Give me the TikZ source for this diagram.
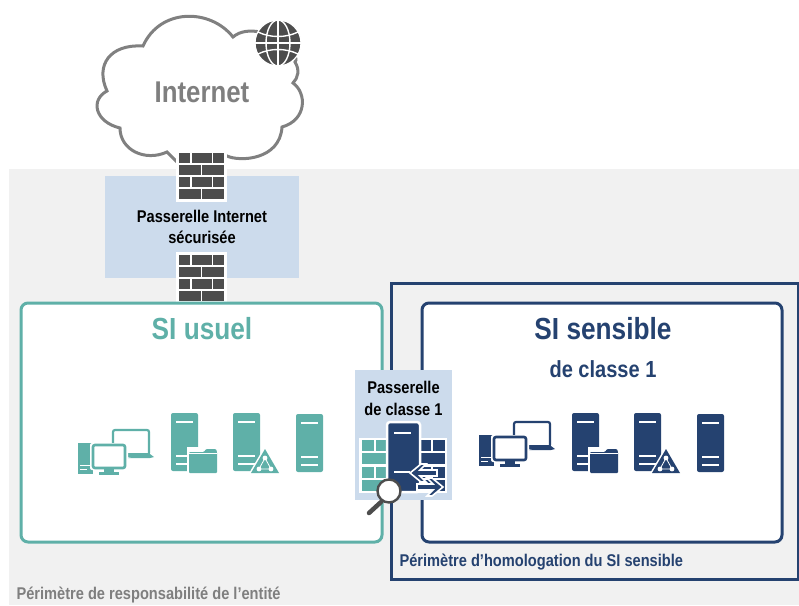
\documentclass[tikz,border=0pt]{standalone}
\usepackage{fontspec}
\usepackage{xcolor}
\setmainfont[FakeStretch=0.86]{Liberation Sans}
\definecolor{tealsi}{HTML}{5FB0A8}
\definecolor{navysi}{HTML}{254270}
\definecolor{greyzone}{HTML}{F1F1F1}
\definecolor{bluegate}{HTML}{CCDBEC}
\definecolor{darkbrick}{HTML}{4D4D4D}
\definecolor{greycloud}{HTML}{808080}
\definecolor{greylabel}{HTML}{7F7F7F}
\newcommand{\sizedfont}[1]{\bfseries\fontsize{#1}{#1}\selectfont}
\tikzset{
  gatelabel/.style={font=\sizedfont{17},text=black,align=center},
  zonelabel/.style={font=\sizedfont{17},anchor=west},
  pics/wallbricks/.style={code={
    \fill [white] (-3,-3) rectangle (48,49);
    \foreach \y in {0,24} {
      \fill [darkbrick] (0,\y) rectangle (11,\y+10);
      \fill [darkbrick] (13,\y) rectangle (33,\y+10);
      \fill [darkbrick] (34,\y) rectangle (45,\y+10);
      \fill [darkbrick] (0,\y+12) rectangle (22,\y+22);
      \fill [darkbrick] (23,\y+12) rectangle (45,\y+22);
    }
  }},
  pics/serverbox/.style={code={
    \fill [#1,rounded corners=2pt] (0,0) rectangle (27,58);
    \draw [white,line width=2pt] (5,9) -- (22,9);
    \draw [white,line width=2pt] (5,43) -- (22,43);
    \draw [white,line width=2pt] (5,51) -- (22,51);
  }},
  pics/folderbox/.style={code={
    \fill [white] (-2,-2) rectangle (30,26);
    \fill [#1,rounded corners=1pt] (0,3) -- (15,3) -- (17,0) -- (27,0) -- (28,3) -- (28,24) -- (0,24) -- cycle;
    \draw [white,line width=0.6pt] (0,4) -- (28,4);
  }},
  pics/triangbox/.style={code={
    \fill [white] (0,-3) -- (17,26) -- (-17,26) -- cycle;
    \fill [#1] (0,0) -- (14,24) -- (-14,24) -- cycle;
    \draw [white,line width=0.8pt] (0,9) -- (6,20) -- (-6,20) -- cycle;
    \fill [white] (0,9) circle (2.4);
    \fill [white] (6,20) circle (2.4);
    \fill [white] (-6,20) circle (2.4);
  }},
  pics/pcbox/.style={code={
    \draw [#1,line width=2.2pt,rounded corners=2pt] (35,24) -- (35,1) -- (71,1) -- (71,24);
    \fill [#1] (48,24) rectangle (72,28);
    \fill [#1] (72,25) -- (76,28) -- (72,29) -- (48,29) -- cycle;
    \fill [#1] (0,14) rectangle (15,45);
    \draw [white,line width=1pt] (2,36) -- (12,36);
    \draw [white,line width=1pt] (2,40) -- (9,40);
    \fill [white,rounded corners=2pt] (12,14) rectangle (50,41);
    \draw [#1,line width=2.6pt,rounded corners=2pt] (15,16) rectangle (47,39);
    \fill [#1] (26,39) rectangle (36,43);
    \fill [#1] (21,43) rectangle (41,45.5);
  }}
}
\begin{document}
\begin{tikzpicture}[x=1pt,y=-1pt]
\useasboundingbox (0,0) rectangle (799,605);
\fill [greyzone] (9,169) rectangle (799,605);
\fill [bluegate] (105,176) rectangle (299,278);

\draw [greycloud,line width=3pt,fill=white] (143,46) .. controls (160,8) and (210,8) .. (233,37)
  .. controls (240,31) and (250,30) .. (260,32) .. controls (285,30) and (300,60) .. (295,62)
  .. controls (300,70) and (298,78) .. (293,83) .. controls (307,93) and (307,120) .. (282,127)
  .. controls (280,160) and (240,162) .. (227,156) .. controls (210,160) and (190,160) .. (178,163)
  -- (167,152) .. controls (145,162) and (120,150) .. (120,128)
  .. controls (95,122) and (90,100) .. (107,91) .. controls (95,65) and (110,44) .. (143,46) -- cycle;
\fill [darkbrick] (278,43) circle (23);
\draw [white,line width=1.4pt] (278,20) -- (278,66);
\draw [white,line width=1.4pt] (278,43) ellipse (12 and 23);
\draw [white,line width=1.4pt] (258,32) .. controls (270,38) and (286,38) .. (298,32);
\draw [white,line width=1.4pt] (255,43) -- (301,43);
\draw [white,line width=1.4pt] (258,54) .. controls (270,48) and (286,48) .. (298,54);
\draw [white,line width=1.2pt] (278,43) circle (23);
\node (internet) [font=\sizedfont{30},text=greylabel] at (202,92) {Internet};

\pic at (179,153) {wallbricks};
\pic at (179,255) {wallbricks};
\node (gatenet) [gatelabel] at (202,226.5) {Passerelle Internet\\[4pt]sécurisée};

\draw [navysi,line width=3pt] (391,283) rectangle (798,579);
\draw [tealsi,line width=3pt,fill=white,rounded corners=7pt] (21,303) rectangle (382,542);
\draw [navysi,line width=3pt,fill=white,rounded corners=7pt] (422,303) rectangle (782,542);

\node (usuel) [font=\sizedfont{30.5},text=tealsi] at (202,329) {SI usuel};
\node (sensible) [font=\sizedfont{30.5},text=navysi] at (603,329) {SI sensible};
\node (classe) [font=\sizedfont{23.3},text=navysi] at (603,369) {de classe 1};
\node (homolog) [zonelabel,text=navysi] at (396,562) {Périmètre d’homologation du SI sensible};
\node (entite) [zonelabel,text=greylabel] at (13,595) {Périmètre de responsabilité de l’entité};

\pic at (78,429) {pcbox=tealsi};
\pic at (171,413) {serverbox=tealsi};
\pic at (189,449) {folderbox=tealsi};
\pic at (233,413) {serverbox=tealsi};
\pic at (265,449) {triangbox=tealsi};
\pic at (296,414) {serverbox=tealsi};

\pic at (479,421) {pcbox=navysi};
\pic at (572,413) {serverbox=navysi};
\pic at (590,449) {folderbox=navysi};
\pic at (634,413) {serverbox=navysi};
\pic at (666,449) {triangbox=navysi};
\pic at (697,414) {serverbox=navysi};

\fill [bluegate] (355,370) rectangle (452,500);
\node (gateclass) [gatelabel] at (403.5,398) {Passerelle\\[5pt]de classe 1};
\fill [white] (359,438) rectangle (447,493);
\foreach \y in {440,467} {
  \fill [tealsi] (362,\y) rectangle (374,\y+11);
  \fill [tealsi] (376,\y) rectangle (388,\y+11);
  \fill [tealsi] (362,\y+13) rectangle (388,\y+24);
  \fill [navysi] (420,\y) rectangle (431,\y+11);
  \fill [navysi] (433,\y) rectangle (445,\y+11);
  \fill [navysi] (420,\y+13) rectangle (445,\y+24);
}
\fill [navysi,rounded corners=3pt,draw=white,line width=2.5pt] (387,492) -- (387,422) -- (420,422) -- (420,492) -- cycle;
\draw [white,line width=2pt] (394,433) -- (411,433);
\draw [white,line width=2pt] (394,472) -- (410,472);
\filldraw [navysi,draw=white,line width=1.6pt] (410,473) -- (421,464) -- (426,464) -- (420,470) -- (437,470) -- (437,476) -- (420,476) -- (426,482) -- (421,482) -- cycle;
\filldraw [navysi,draw=white,line width=1.6pt] (443,487) -- (432,478) -- (427,478) -- (433,484) -- (417,484) -- (417,490) -- (433,490) -- (427,496) -- (432,496) -- cycle;
\draw [darkbrick,line width=4.5pt,line cap=round] (381,502) -- (369,513);
\draw [darkbrick,line width=2.4pt,fill=white] (389,491) circle (11.5);
\end{tikzpicture}
\end{document}
